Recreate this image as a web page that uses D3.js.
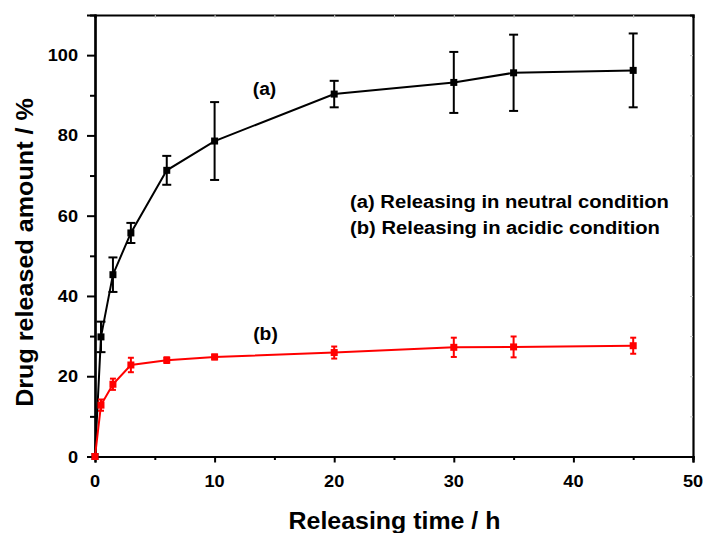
<!DOCTYPE html>
<html>
<head>
<meta charset="utf-8">
<script src="https://cdn.jsdelivr.net/npm/d3@7"></script>
<style>
  html, body { margin: 0; padding: 0; background: #fff; }
  svg { display: block; }
  text { font-family: "Liberation Sans", Arial, sans-serif; font-weight: 700; fill: #000; }
</style>
</head>
<body>
<svg id="chart" width="707" height="533"></svg>
<script>
// Release time points (h)
const times = [0, 0.5, 1.5, 3, 6, 10, 20, 30, 35, 45];
// (a) neutral condition: mean released amount (%) and error
const neutralMean = [0, 29.8, 45.3, 55.7, 71.3, 78.6, 90.3, 93.2, 95.6, 96.2];
const neutralErr  = [0, 3.8, 4.3, 2.5, 3.6, 9.7, 3.3, 7.6, 9.5, 9.2];
// (b) acidic condition
const acidicMean = [0, 12.8, 18.0, 22.8, 24.0, 24.8, 25.9, 27.2, 27.3, 27.6];
const acidicErr  = [0, 1.4, 1.4, 1.8, 0.7, 0.6, 1.5, 2.4, 2.6, 2.0];

const xTicks = [0, 10, 20, 30, 40, 50];
const yTicks = [0, 20, 40, 60, 80, 100];
const legendLines = ["(a) Releasing in neutral condition", "(b) Releasing in acidic condition"];

const svg = d3.select("#chart");
const plotL = 95, plotR = 693, plotT = 15, plotB = 456.5;
const SX = 1.07; // glyphs are set slightly wide

const x = d3.scaleLinear().domain([0, 50]).range([plotL, plotR]);
const y = d3.scaleLinear().domain([0, 110]).range([plotB, plotT]);

const xMinor = d3.range(5, 50, 10);
const yMinor = d3.range(10, 110, 20);

// Mirror axes on top and right with faint ticks
const gt = svg.append("g").attr("transform", `translate(0,${plotT})`);
gt.call(d3.axisBottom(x).tickValues(xTicks.concat(xMinor)).tickSize(3).tickFormat(""));
const gr = svg.append("g").attr("transform", `translate(${plotR},0)`);
gr.call(d3.axisLeft(y).tickValues(yTicks.concat(yMinor)).tickSize(3).tickFormat(""));

// Bottom and left axes: major ticks labelled, minor ticks in between
const gx = svg.append("g").attr("transform", `translate(0,${plotB})`);
gx.call(d3.axisBottom(x).tickValues(xTicks).tickSize(6).tickFormat(""));
gx.append("g").call(d3.axisBottom(x).tickValues(xMinor).tickSize(3.5).tickFormat(""));
const gy = svg.append("g").attr("transform", `translate(${plotL},0)`);
gy.call(d3.axisLeft(y).tickValues(yTicks).tickSize(8).tickFormat(""));
gy.append("g").call(d3.axisLeft(y).tickValues(yMinor).tickSize(5).tickFormat(""));

svg.selectAll(".domain").attr("stroke", "#000").attr("stroke-width", 2.2);
svg.selectAll(".tick line").attr("stroke", "#000").attr("stroke-width", 2);
gt.selectAll(".tick line").attr("stroke", "#c8c8c8").attr("stroke-width", 1);
gr.selectAll(".tick line").attr("stroke", "#c8c8c8").attr("stroke-width", 1);

// Text helper: bold, slightly widened glyphs
function wideText(px, py, size, anchor, str) {
  return svg.append("text")
    .attr("transform", `translate(${px},${py}) scale(${SX},1)`)
    .attr("text-anchor", anchor).attr("font-size", size).text(str);
}
xTicks.forEach(v => wideText(x(v), 487, 17, "middle", v));
yTicks.forEach(v => wideText(plotL - 17, y(v) + 6, 17, "end", v));

// Series with error bars
function drawSeries(means, errs, color, cap) {
  const pts = times.map((t, i) => ({t, m: means[i], e: errs[i]}));
  const g = svg.append("g");
  g.append("path").datum(pts)
    .attr("fill", "none").attr("stroke", color).attr("stroke-width", 2)
    .attr("d", d3.line().x(d => x(d.t)).y(d => y(d.m)));
  const eb = g.selectAll(".eb").data(pts.filter(d => d.e > 0)).join("g");
  eb.append("line")
    .attr("x1", d => x(d.t)).attr("x2", d => x(d.t))
    .attr("y1", d => y(d.m - d.e)).attr("y2", d => y(d.m + d.e))
    .attr("stroke", color).attr("stroke-width", 2);
  [-1, 1].forEach(s => {
    eb.append("line")
      .attr("x1", d => x(d.t) - cap).attr("x2", d => x(d.t) + cap)
      .attr("y1", d => y(d.m + s * d.e)).attr("y2", d => y(d.m + s * d.e))
      .attr("stroke", color).attr("stroke-width", 2);
  });
  g.selectAll(".pt").data(pts).join("rect")
    .attr("x", d => x(d.t) - 3.5).attr("y", d => y(d.m) - 3.5)
    .attr("width", 7).attr("height", 7).attr("fill", color);
}
drawSeries(neutralMean, neutralErr, "#000", 4.5);
drawSeries(acidicMean, acidicErr, "#ff0000", 3);

// Curve labels
wideText(264.5, 95, 18, "middle", "(a)");
wideText(265.5, 340, 18, "middle", "(b)");

// Legend text
legendLines.forEach((s, i) => wideText(350, 208 + i * 25.5, 18.9, "start", s));

// Axis titles
wideText(394.5, 528.5, 23.3, "middle", "Releasing time / h");
svg.append("text").attr("transform", "translate(32.5,252.5) rotate(-90) scale(1.07,1)")
  .attr("text-anchor", "middle").attr("font-size", 23.5).text("Drug released amount / %");
</script>
</body>
</html>
